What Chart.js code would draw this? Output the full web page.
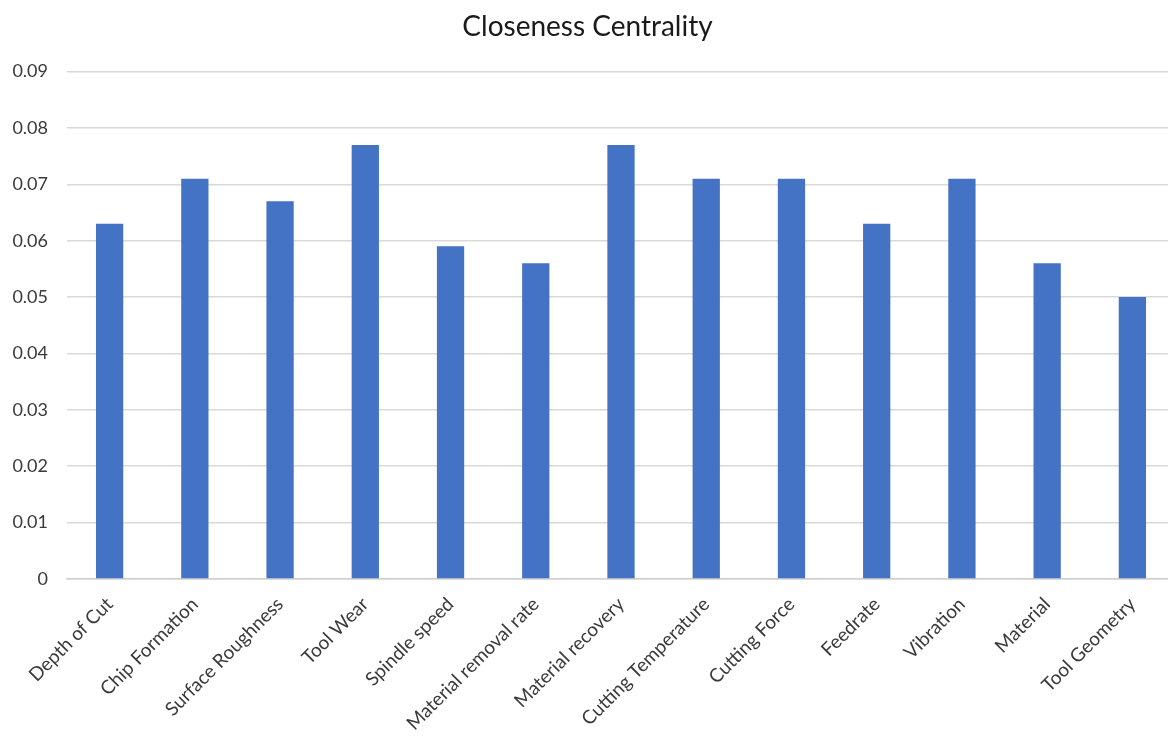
<!DOCTYPE html>
<html>
<head>
<meta charset="utf-8">
<script src="https://cdn.jsdelivr.net/npm/chart.js@4"></script>
<style>
  html, body { margin: 0; padding: 0; background: #ffffff; overflow: hidden; }
  #wrap { width: 1194px; height: 736px; position: relative; }
</style>
</head>
<body>
<div id="wrap"><canvas id="chart"></canvas></div>
<script>
// Closeness centrality of each machining factor
const categories = [
  'Depth of Cut', 'Chip Formation', 'Surface Roughness', 'Tool Wear',
  'Spindle speed', 'Material removal rate', 'Material recovery',
  'Cutting Temperature', 'Cutting Force', 'Feedrate', 'Vibration',
  'Material', 'Tool Geometry'
];
const closeness = [
  0.063, 0.071, 0.067, 0.077, 0.059, 0.056, 0.077,
  0.071, 0.071, 0.063, 0.071, 0.056, 0.050
];
const yTicks = [0, 0.01, 0.02, 0.03, 0.04, 0.05, 0.06, 0.07, 0.08, 0.09];

const fontFamily = 'Lato, "Open Sans", sans-serif';

new Chart(document.getElementById('chart'), {
  type: 'bar',
  data: {
    labels: categories,
    datasets: [{
      data: closeness,
      backgroundColor: '#4472C4',
      borderWidth: 0,
      categoryPercentage: 0.64,
      barPercentage: 0.5
    }]
  },
  options: {
    responsive: true,
    maintainAspectRatio: false,
    animation: false,
    layout: { padding: { left: 0, right: 19, top: 0, bottom: 0 } },
    plugins: {
      legend: { display: false },
      tooltip: { enabled: false },
      title: {
        display: true,
        text: 'Closeness Centrality',
        color: '#1a1a1a',
        font: { family: fontFamily, size: 28, weight: 'normal' },
        padding: { top: 10, bottom: 28 }
      }
    },
    scales: {
      x: {
        grid: { display: false, drawTicks: false },
        border: { display: true, color: '#d0d0d0', width: 1.5 },
        ticks: {
          color: '#3a3a3a',
          font: { family: fontFamily, size: 19 },
          minRotation: 45,
          maxRotation: 45,
          autoSkip: false,
          padding: 14
        },
        afterFit: (axis) => { axis.height = 157; }
      },
      y: {
        min: 0,
        max: 0.09,
        afterBuildTicks: (axis) => { axis.ticks = yTicks.map(v => ({ value: v })); },
        grid: { color: '#d9d9d9', lineWidth: 1.5, drawTicks: false },
        border: { display: false },
        ticks: {
          color: '#3a3a3a',
          font: { family: fontFamily, size: 18 },
          padding: 19,
          callback: (v) => (v === 0 ? '0' : v.toFixed(2))
        },
        afterFit: (axis) => { axis.width = 67; }
      }
    }
  }
});
</script>
</body>
</html>
